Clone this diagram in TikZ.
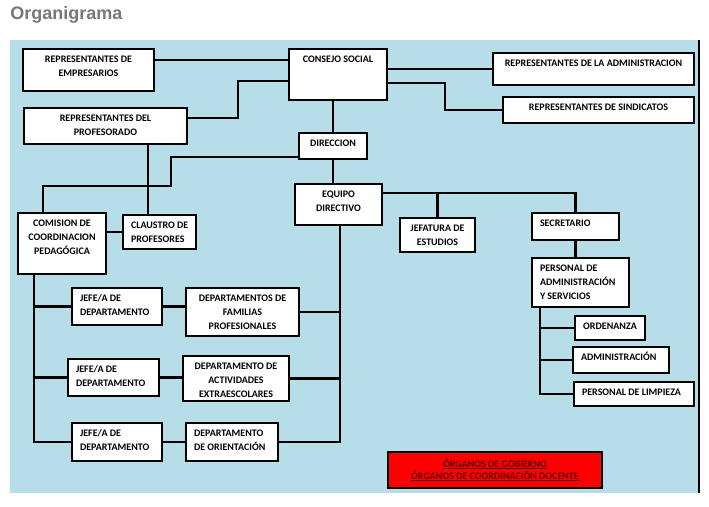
\documentclass[tikz,border=0pt]{standalone}
\usepackage{fontspec}
\setmainfont{Carlito}
\newfontfamily\titlefont{Liberation Sans}
\definecolor{fondo}{RGB}{183,221,232}
\definecolor{titulogris}{RGB}{120,120,120}
\definecolor{rojoleyenda}{RGB}{255,0,0}
\definecolor{textoleyenda}{RGB}{90,0,0}
\newlength\px \setlength\px{0.75pt}
% cajas de texto: ancho, alto, texto
\newcommand{\caja}[3]{\parbox[c][#2\px][t]{#1\px}{\centering\rule{0pt}{10pt}#3}}
\newcommand{\cajaizq}[3]{\parbox[c][#2\px][t]{#1\px}{\raggedright\leftskip=6pt\rule{0pt}{10pt}#3}}
\newcommand{\subrayado}[1]{\leavevmode\setbox0\hbox{#1}\rlap{\rule[-1.6pt]{\wd0}{0.6pt}}\box0}
\begin{document}
\begin{tikzpicture}[x=0.75pt,y=-0.75pt,
  organo/.style={draw, line width=1.9pt, fill=white, inner sep=0pt, outer sep=0pt, anchor=north west, font=\fontsize{7.5}{10.5}\selectfont\bfseries},
  linea/.style={line width=1.6pt}]
\useasboundingbox (0,0) rectangle (709,506);
\node[anchor=north west, inner sep=0pt, text=titulogris, font=\titlefont\fontsize{13.5}{16}\selectfont\bfseries] (titulo) at (10,6) {Organigrama};
\fill[fondo] (10,40) rectangle (699,493);
\draw[line width=0.8pt] (699,40) -- (699,493);

% organos de gobierno
\node[organo] (emp) at (23,49) {\caja{131}{42}{REPRESENTANTES  DE\\EMPRESARIOS}};
\node[organo] (consejo) at (289,49) {\caja{98}{51}{CONSEJO SOCIAL}};
\node[organo] (admin) at (493,53) {\caja{201}{32}{REPRESENTANTES DE LA ADMINISTRACION}};
\node[organo] (sind) at (503,97) {\caja{191}{26}{REPRESENTANTES DE SINDICATOS}};
\node[organo] (prof) at (24,108) {\caja{163}{36}{REPRESENTANTES DEL\\PROFESORADO}};
\node[organo] (direccion) at (299,133) {\caja{68}{26}{DIRECCION}};
\node[organo] (equipo) at (295,184) {\caja{87}{41}{EQUIPO\\DIRECTIVO}};
\node[organo] (comision) at (18,213) {\caja{88}{61}{COMISION DE\\COORDINACION\\PEDAGÓGICA}};
\node[organo] (claustro) at (123,215) {\cajaizq{73}{34}{CLAUSTRO DE\\PROFESORES}};
\node[organo] (jefatura) at (400,218) {\caja{75}{34}{JEFATURA DE\\ESTUDIOS}};
\node[organo] (secretario) at (532,213) {\cajaizq{87}{27}{SECRETARIO}};
\node[organo] (pas) at (532,258) {\cajaizq{97}{49}{PERSONAL DE\\ADMINISTRACIÓN\\Y SERVICIOS}};
\node[organo] (ordenanza) at (575,316) {\caja{70}{24}{ORDENANZA}};
\node[organo] (administracion) at (573,347) {\cajaizq{96}{26}{ADMINISTRACIÓN}};
\node[organo] (limpieza) at (574,382) {\cajaizq{120}{24}{PERSONAL DE LIMPIEZA}};

% organos de coordinacion docente
\node[organo] (jefe1) at (72,288) {\cajaizq{90}{37}{JEFE/A DE\\DEPARTAMENTO}};
\node[organo] (familias) at (186,288) {\caja{113}{48}{DEPARTAMENTOS DE\\FAMILIAS\\PROFESIONALES}};
\node[organo] (jefe2) at (68,359) {\cajaizq{91}{37}{JEFE/A DE\\DEPARTAMENTO}};
\node[organo] (actividades) at (183,356) {\caja{106}{45}{DEPARTAMENTO DE\\ACTIVIDADES\\EXTRAESCOLARES}};
\node[organo] (jefe3) at (72,423) {\cajaizq{90}{38}{JEFE/A DE\\DEPARTAMENTO}};
\node[organo] (orientacion) at (186,423) {\cajaizq{92}{38}{DEPARTAMENTO\\DE ORIENTACIÓN}};

\node[organo, fill=rojoleyenda] (leyenda) at (388,452) {\parbox[c][36\px][c]{214\px}{\centering\color{textoleyenda}\fontsize{7.5}{9}\selectfont
  \subrayado{ÓRGANOS DE GOBIERNO}\\\subrayado{ÓRGANOS DE COORDINACIÓN DOCENTE}}};

% conexiones
\draw[linea] (emp.east |- 0,60) -- (consejo.west |- 0,60);
\draw[linea] (prof.east |- 0,118) -| (238,81) -- (consejo.west |- 0,81);
\draw[linea] (consejo.east |- admin.west) -- (admin.west);
\draw[linea] (consejo.east |- 0,83) -| (445,110) -- (sind.west);
\draw[linea] (direccion.north) -- (direccion.north |- consejo.south);
\draw[linea] (direccion.south) -- (direccion.south |- equipo.north);
\draw[linea] (direccion.west |- 0,157) -| (171,186) -| (comision.north -| 43,0);
\draw[linea] (prof.south -| 148,0) -- (claustro.north -| 148,0);
\draw[linea] (claustro.west) -- (claustro.west -| comision.east);
\draw[linea] (comision.south -| 34,0) |- (jefe3.west);
\draw[linea] (jefe1.west) -- (jefe1.west -| 34,0);
\draw[linea] (jefe2.west) -- (jefe2.west -| 34,0);
\draw[linea] (jefe1.east) -- (jefe1.east -| familias.west);
\draw[linea] (jefe2.east) -- (jefe2.east -| actividades.west);
\draw[linea] (jefe3.east) -- (jefe3.east -| orientacion.west);
\draw[linea] (equipo.south -| 340,0) |- (orientacion.east);
\draw[linea] (familias.east) -- (familias.east -| 340,0);
\draw[linea] (actividades.east) -- (actividades.east -| 340,0);
\draw[linea] (equipo.east |- 0,193) -| (secretario.north);
\draw[linea] (jefatura.north) -- (jefatura.north |- 0,193);
\draw[linea] (secretario.south) -- (secretario.south |- pas.north);
\draw[linea] (pas.south -| 540,0) |- (limpieza.west);
\draw[linea] (ordenanza.west) -- (ordenanza.west -| 540,0);
\draw[linea] (administracion.west) -- (administracion.west -| 540,0);
\end{tikzpicture}
\end{document}
